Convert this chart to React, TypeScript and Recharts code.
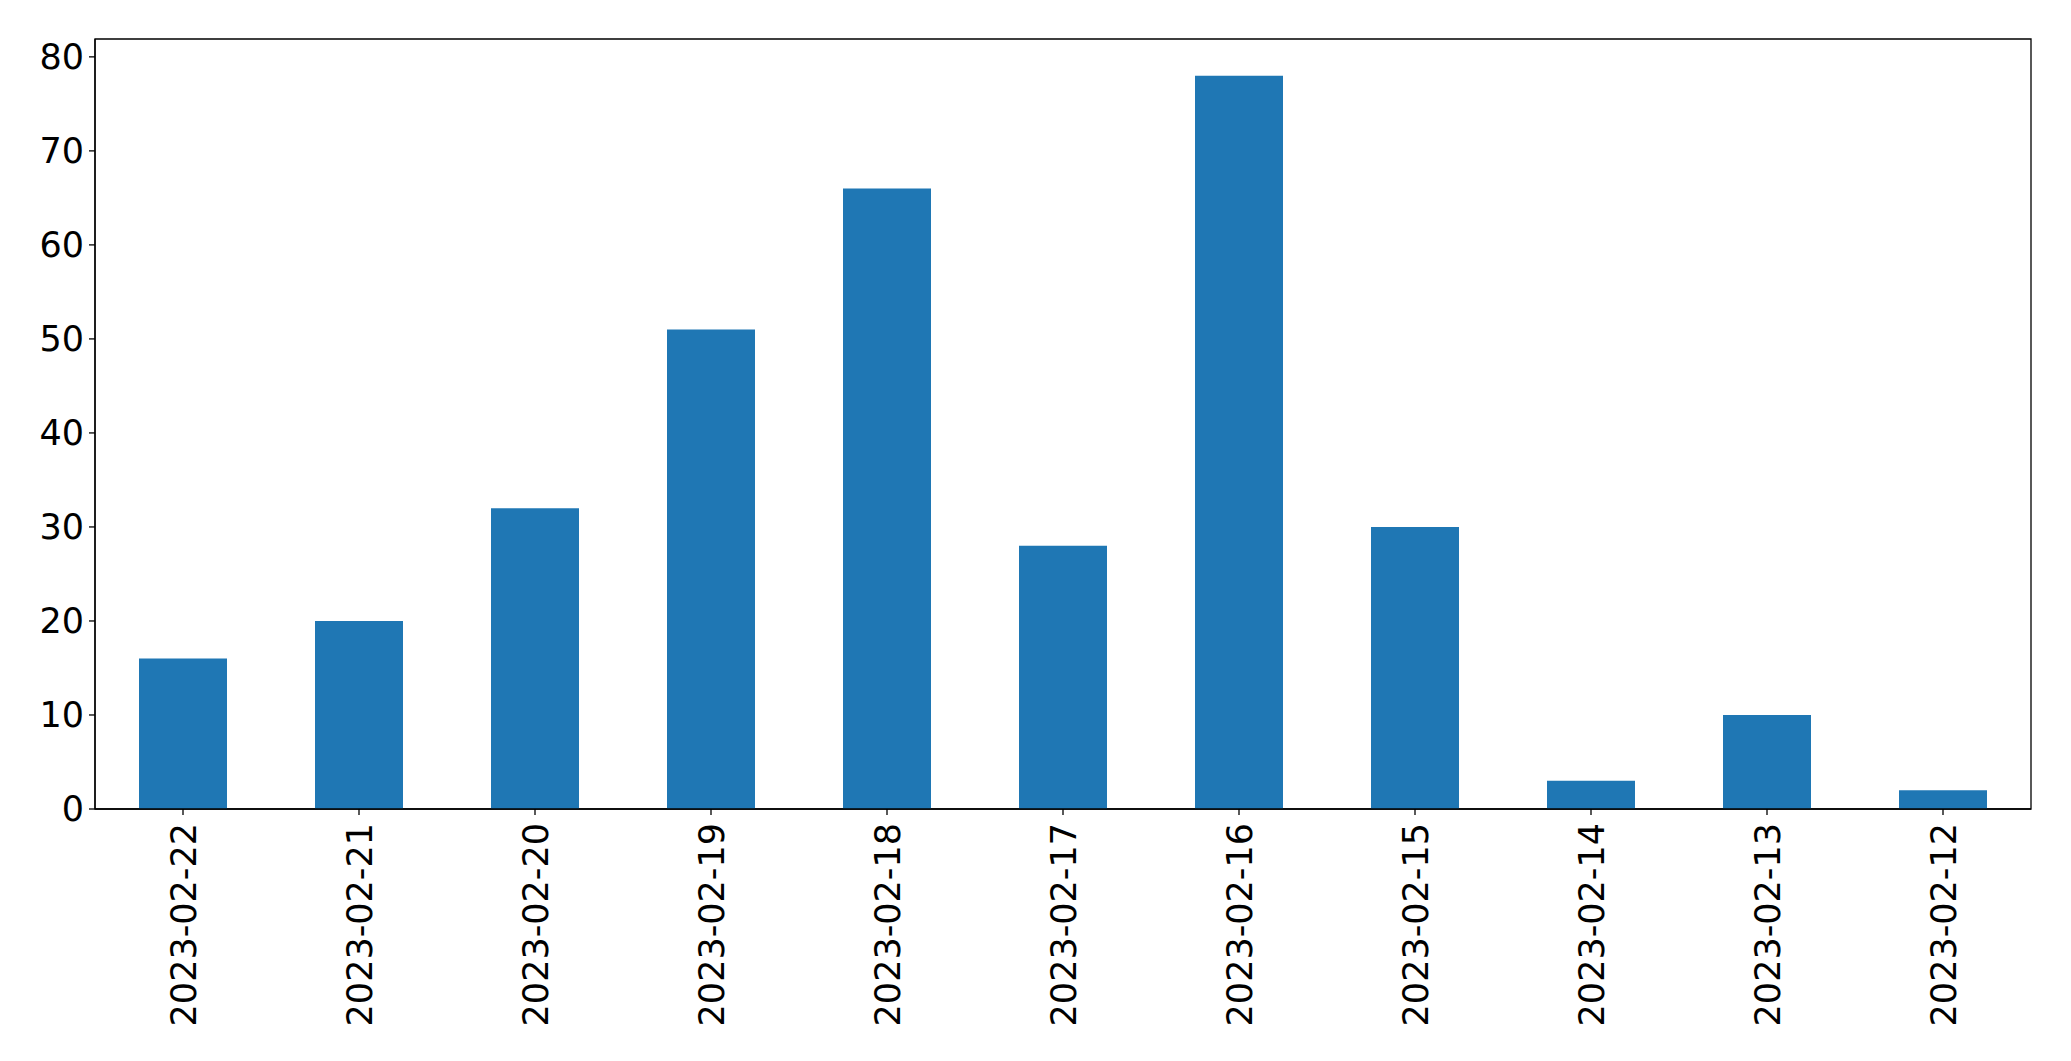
import React from "react";
import { BarChart, Bar, XAxis, YAxis, ReferenceArea } from "recharts";

const categories = [
  "2023-02-22",
  "2023-02-21",
  "2023-02-20",
  "2023-02-19",
  "2023-02-18",
  "2023-02-17",
  "2023-02-16",
  "2023-02-15",
  "2023-02-14",
  "2023-02-13",
  "2023-02-12",
];
const counts = [16, 20, 32, 51, 66, 28, 78, 30, 3, 10, 2];
const yTicks = [0, 10, 20, 30, 40, 50, 60, 70, 80];
const yMax = 81.9;

const data = categories.map((c, i) => ({ date: c, count: counts[i] }));

const FONT = "'DejaVu Sans', sans-serif";

const XTick = (props: any) => {
  const { x, y, payload } = props;
  return (
    <text
      x={x}
      y={y}
      transform={`rotate(-90, ${x}, ${y})`}
      textAnchor="end"
      dy="0.36em"
      fontSize={35}
      fontFamily={FONT}
      fill="#000"
    >
      {payload.value}
    </text>
  );
};

export default function App() {
  return (
    <div style={{ position: "absolute", left: 0, top: 0, background: "#fff" }}>
      <BarChart
        width={2071}
        height={1061}
        data={data}
        margin={{ top: 39, right: 40, bottom: 0, left: 0 }}
        barCategoryGap="25%"
      >
        <XAxis
          dataKey="date"
          height={252}
          interval={0}
          tick={<XTick />}
          tickSize={6}
          tickMargin={8}
          axisLine={{ stroke: "#000", strokeWidth: 1.3 }}
          tickLine={{ stroke: "#000", strokeWidth: 1.3 }}
        />
        <YAxis
          width={95}
          type="number"
          domain={[0, yMax]}
          ticks={yTicks}
          interval={0}
          tickSize={6}
          tickMargin={5}
          tick={{ fontSize: 35, fontFamily: FONT, fill: "#000" }}
          axisLine={{ stroke: "#000", strokeWidth: 1.3 }}
          tickLine={{ stroke: "#000", strokeWidth: 1.3 }}
        />
        <Bar dataKey="count" fill="#1f77b4" isAnimationActive={false} />
        <ReferenceArea
          y1={0}
          y2={yMax}
          fill="none"
          stroke="#000"
          strokeWidth={1.3}
          ifOverflow="visible"
        />
      </BarChart>
    </div>
  );
}
